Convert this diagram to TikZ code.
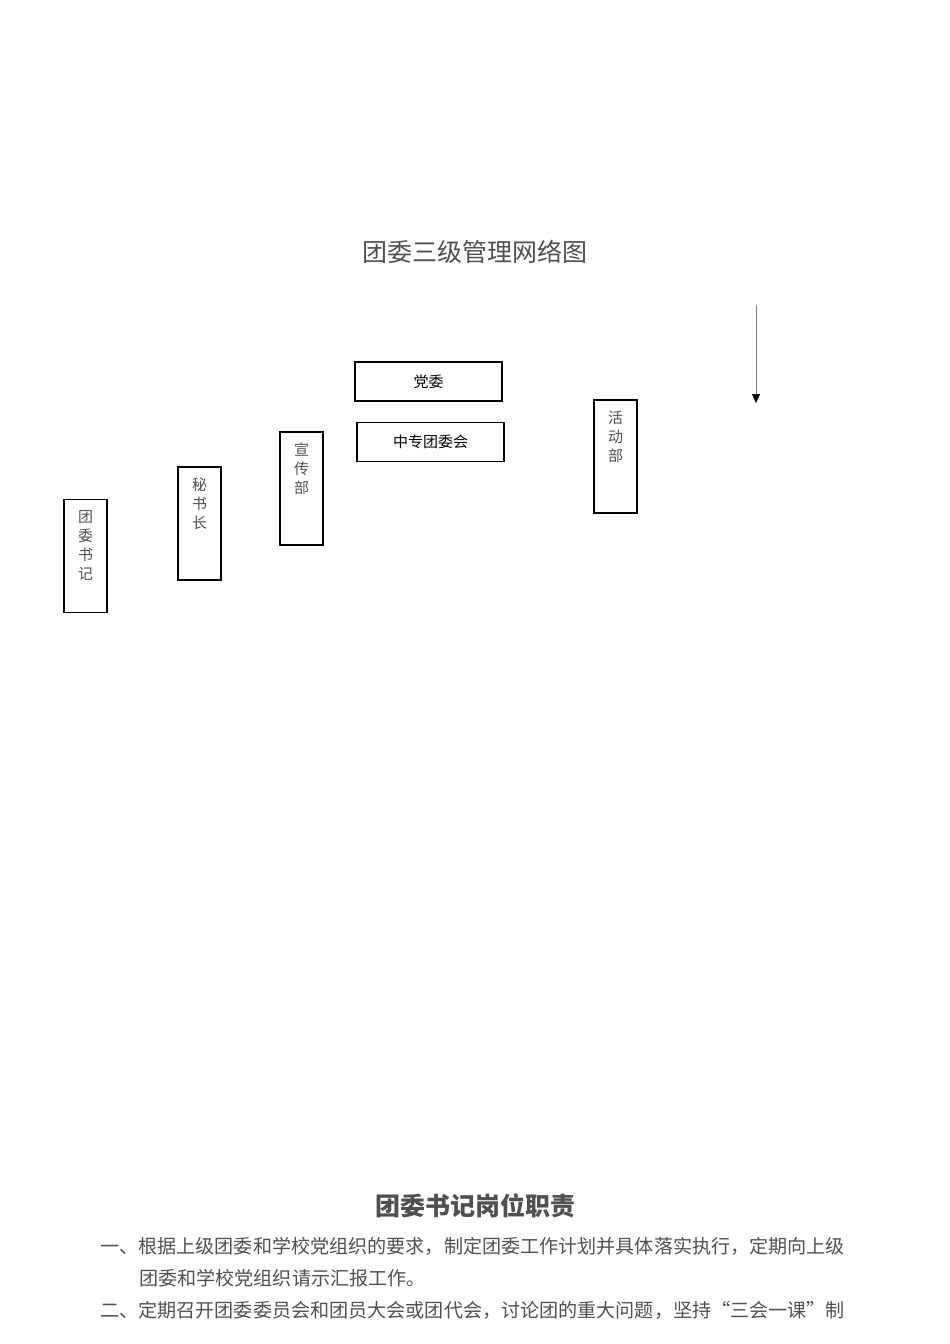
\documentclass[tikz,border=0pt]{standalone}
\usepackage{fontspec}
\setmainfont{Noto Sans CJK SC}
\usetikzlibrary{arrows.meta}
\definecolor{inkgray}{RGB}{80,80,80}
\begin{document}
\begin{tikzpicture}[x=1pt,y=-1pt,>=Stealth,
  hbox/.style={draw,line width=1.2pt,minimum width=147pt,minimum height=39pt,inner sep=0pt,font=\fontsize{15}{15}\selectfont},
  vbox/.style={draw,line width=1.2pt,minimum width=43pt,minimum height=113pt,inner sep=0pt},
  vtext/.style={anchor=north,align=center,inner sep=0pt,text=inkgray,font=\fontsize{15}{19}\selectfont},
  body/.style={anchor=west,inner sep=0pt,text=inkgray,font=\fontsize{19.1}{19.1}\selectfont}]

\useasboundingbox (0,0) rectangle (950,1344);

% The title
\node[text=inkgray,font=\fontsize{25}{25}\selectfont] (title) at (475,252) {团委三级管理网络图};

% The wide boxes
\node[hbox] (dangwei) at (428.5,381.5) {党委};
\node[hbox] (tuanweihui) at (430.5,442) {中专团委会};

% The tall boxes
\node[vbox] (shuji) at (85.5,556) {};
\node[vbox] (mishu) at (199.5,523.5) {};
\node[vbox] (xuanchuan) at (301.5,488.5) {};
\node[vbox] (huodong) at (615.5,456.5) {};

\node[vtext] (shujitext) at ([yshift=-11pt]shuji.north) {团\\委\\书\\记};
\node[vtext] (mishutext) at ([yshift=-11pt]mishu.north) {秘\\书\\长};
\node[vtext] (xuanchuantext) at ([yshift=-11pt]xuanchuan.north) {宣\\传\\部};
\node[vtext] (huodongtext) at ([yshift=-11pt]huodong.north) {活\\动\\部};

% The arrow
\coordinate (arrtop) at (756,305);
\coordinate (arrend) at (756,403);
\draw[gray,line width=0.6pt,-{Triangle[width=8pt,length=9pt,color=black]}] (arrtop) -- (arrend);

% The text below
\node[text=inkgray,font=\fontsize{25}{25}\selectfont\bfseries] (duty) at (475,1206) {团委书记岗位职责};
\node[body] (line1) at (100,1246) {一、根据上级团委和学校党组织的要求，制定团委工作计划并具体落实执行，定期向上级};
\node[body] (line2) at (139,1278) {团委和学校党组织请示汇报工作。};
\node[body] (line3) at (100,1310) {二、定期召开团委委员会和团员大会或团代会，讨论团的重大问题，坚持“三会一课”制};

\end{tikzpicture}
\end{document}
